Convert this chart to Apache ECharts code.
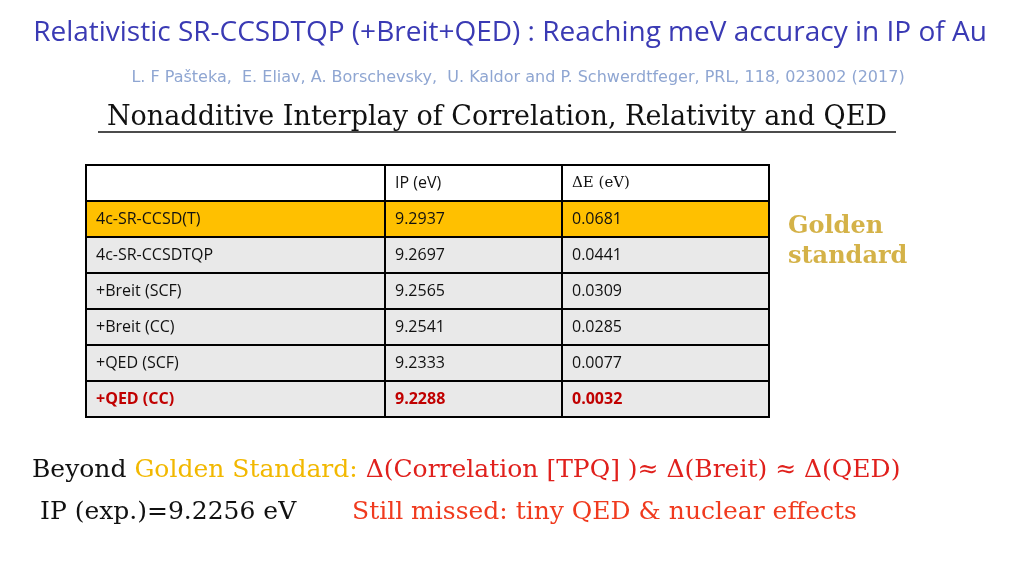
<!DOCTYPE html><html><head><meta charset="utf-8">
<script src="https://cdn.jsdelivr.net/npm/echarts@6/dist/echarts.min.js"></script>
<style>html,body{margin:0;background:#fff}#c{width:1024px;height:576px}</style></head><body><div id="c"></div>
<script>
const headers = ['', 'IP (eV)', 'ΔE (eV)'];
const methods = ['4c-SR-CCSD(T)', '4c-SR-CCSDTQP', '+Breit (SCF)', '+Breit (CC)', '+QED (SCF)', '+QED (CC)'];
const ipValues = ['9.2937', '9.2697', '9.2565', '9.2541', '9.2333', '9.2288'];
const deltaValues = ['0.0681', '0.0441', '0.0309', '0.0285', '0.0077', '0.0032'];

const colX = [86, 385, 562, 769];
const rowY = [165, 201, 237, 273, 309, 345, 381, 417];
const g = [];
const sans = '"Open Sans", sans-serif', serif = '"DejaVu Serif", serif';
for (let r = 0; r < 7; r++) {
  const fill = r === 0 ? '#ffffff' : (r === 1 ? '#ffc000' : '#e9e9e9');
  g.push({type:'rect', shape:{x:colX[0], y:rowY[r], width:colX[3]-colX[0], height:rowY[r+1]-rowY[r]}, style:{fill, stroke:'#000', lineWidth:2}});
  const cells = r === 0 ? headers : [methods[r-1], ipValues[r-1], deltaValues[r-1]];
  for (let c = 0; c < 3; c++) {
    g.push({type:'line', shape:{x1:colX[c], y1:rowY[r], x2:colX[c], y2:rowY[r+1]}, style:{stroke:'#000', lineWidth:2}});
    const last = r === 6;
    g.push({type:'text', x:colX[c]+10, y:(rowY[r]+rowY[r+1])/2, style:{text:cells[c], verticalAlign:'middle', font:(last?'bold ':'')+(r===0&&c===2?'15px ':'16px ')+((r===0&&c===2)?serif:sans), fill:last?'#c00000':'#111'}});
  }
}
g.push({type:'text', x:510, y:33, style:{text:'Relativistic SR-CCSDTQP (+Breit+QED) : Reaching meV accuracy in IP of Au', align:'center', verticalAlign:'middle', font:'28px "Open Sans", sans-serif', fill:'#3a3ab4'}});
g.push({type:'text', x:518, y:78, style:{text:'L. F Pašteka,  E. Eliav, A. Borschevsky,  U. Kaldor and P. Schwerdtfeger, PRL, 118, 023002 (2017)', align:'center', verticalAlign:'middle', font:'16px "DejaVu Sans", sans-serif', fill:'#8fa6d2'}});
g.push({type:'text', x:497, y:118, style:{text:'Nonadditive Interplay of Correlation, Relativity and QED', align:'center', verticalAlign:'middle', font:'27px "DejaVu Serif", serif', fill:'#111'}});
g.push({type:'line', shape:{x1:98, y1:132, x2:896, y2:132}, style:{stroke:'#111', lineWidth:1.5}});
g.push({type:'text', x:788, y:242, style:{text:'Golden\nstandard', verticalAlign:'middle', lineHeight:30, font:'bold 24px "DejaVu Serif", serif', fill:'#d4b248'}});
g.push({type:'text', x:32, y:470, style:{text:'{a|Beyond }{b|Golden Standard: }{c|Δ(Correlation [TPQ] )≈ Δ(Breit) ≈ Δ(QED)}', verticalAlign:'middle',
  rich:{a:{font:'25px "DejaVu Serif", serif', fill:'#111'}, b:{font:'25px "DejaVu Serif", serif', fill:'#f2b800'}, c:{font:'25px "DejaVu Serif", serif', fill:'#e0201c'}}}});
g.push({type:'text', x:40, y:512, style:{text:'IP (exp.)=9.2256 eV', verticalAlign:'middle', font:'25px "DejaVu Serif", serif', fill:'#111'}});
g.push({type:'text', x:352, y:512, style:{text:'Still missed: tiny QED & nuclear effects', verticalAlign:'middle', font:'25px "DejaVu Serif", serif', fill:'#f03a1e'}});
const chart = echarts.init(document.getElementById('c'));
chart.setOption({graphic:{elements:g}});
</script></body></html>
